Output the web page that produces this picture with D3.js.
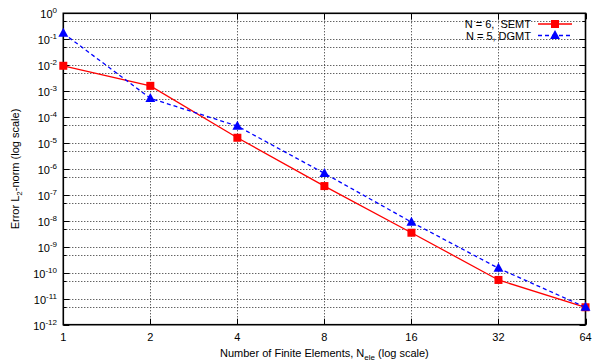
<!DOCTYPE html>
<html>
<head>
<meta charset="utf-8">
<script src="https://cdn.jsdelivr.net/npm/d3@7"></script>
<style>
  html, body { margin: 0; padding: 0; background: #fff; }
  svg { display: block; font-family: "Liberation Sans", Arial, Helvetica, sans-serif; }
</style>
</head>
<body>
<svg id="chart" width="598" height="364"></svg>
<script>
// Number of finite elements (x) and L2-norm errors for the two methods
const elements = [1, 2, 4, 8, 16, 32, 64];
const semtErrors = [9.5e-3, 1.6e-3, 1.6e-5, 2.2e-7, 3.5e-9, 5.3e-11, 4.7e-12];
const dgmtErrors = [1.7e-1, 5.3e-4, 4.5e-5, 6.8e-7, 9.0e-9, 1.5e-10, 4.7e-12];
const seriesNames = ["N = 6,  SEMT", "N = 5, DGMT"];
const xTickValues = [1, 2, 4, 8, 16, 32, 64];
const yExponents = [0, -1, -2, -3, -4, -5, -6, -7, -8, -9, -10, -11, -12];

const svg = d3.select("#chart");
const plotLeft = 63.3, plotRight = 585.5, plotTop = 13.3, plotBottom = 324.7;

const x = d3.scaleLog().base(2).domain([1, 64]).range([plotLeft, plotRight]);
const y = d3.scaleLog().domain([1e-12, 1]).range([plotBottom, plotTop]);

const majorY = yExponents.map(e => Math.pow(10, e));
// minor levels at 5 x 10^k inside the domain
const minorY = yExponents.slice(0, -1).map(e => 5 * Math.pow(10, e - 1));

// grid
const grid = svg.append("g").attr("stroke", "#222").attr("stroke-width", 1)
  .attr("stroke-dasharray", "1,2").attr("fill", "none");
majorY.concat(minorY).forEach(v => {
  if (v === 1 || v === 1e-12) return;
  const yy = Math.round(y(v)) + 0.5;
  grid.append("line").attr("x1", plotLeft).attr("x2", plotRight).attr("y1", yy).attr("y2", yy);
});
xTickValues.slice(1, -1).forEach(v => {
  const xx = Math.round(x(v)) + 0.5;
  grid.append("line").attr("x1", xx).attr("x2", xx).attr("y1", plotTop).attr("y2", plotBottom);
});

// tick marks (inward, mirrored)
const ticks = svg.append("g").attr("stroke", "#000").attr("stroke-width", 1);
majorY.forEach(v => {
  const yy = Math.round(y(v)) + 0.5;
  ticks.append("line").attr("x1", plotLeft).attr("x2", plotLeft + 6).attr("y1", yy).attr("y2", yy);
  ticks.append("line").attr("x1", plotRight - 6).attr("x2", plotRight).attr("y1", yy).attr("y2", yy);
});
minorY.forEach(v => {
  const yy = Math.round(y(v)) + 0.5;
  ticks.append("line").attr("x1", plotLeft).attr("x2", plotLeft + 3).attr("y1", yy).attr("y2", yy);
  ticks.append("line").attr("x1", plotRight - 3).attr("x2", plotRight).attr("y1", yy).attr("y2", yy);
});
xTickValues.forEach(v => {
  const xx = Math.round(x(v)) + 0.5;
  ticks.append("line").attr("x1", xx).attr("x2", xx).attr("y1", plotBottom).attr("y2", plotBottom - 6);
  ticks.append("line").attr("x1", xx).attr("x2", xx).attr("y1", plotTop).attr("y2", plotTop + 6);
});

// border
svg.append("rect").attr("x", plotLeft).attr("y", plotTop)
  .attr("width", plotRight - plotLeft).attr("height", plotBottom - plotTop)
  .attr("fill", "none").attr("stroke", "#000").attr("stroke-width", 1.6);

// y tick labels: 10 with superscript exponent
const yLab = svg.append("g").attr("font-size", 11).attr("fill", "#000");
yExponents.forEach(e => {
  const t = yLab.append("text").attr("x", 57).attr("y", y(Math.pow(10, e)) + 5)
    .attr("text-anchor", "end");
  t.append("tspan").text("10");
  t.append("tspan").attr("dy", -5).attr("font-size", 8).text(e === 0 ? "0" : "-" + (-e));
});

// x tick labels
const xLab = svg.append("g").attr("font-size", 11).attr("fill", "#000");
xTickValues.forEach(v => {
  xLab.append("text").attr("x", x(v)).attr("y", 341).attr("text-anchor", "middle").text(v);
});

// axis titles
const xt = svg.append("text").attr("x", (plotLeft + plotRight) / 2).attr("y", 357)
  .attr("text-anchor", "middle").attr("font-size", 11);
xt.append("tspan").text("Number of Finite Elements, N");
xt.append("tspan").attr("dy", 3).attr("font-size", 8).text("ele");
xt.append("tspan").attr("dy", -3).text(" (log scale)");

const yt = svg.append("text")
  .attr("transform", `translate(19,${(plotTop + plotBottom) / 2}) rotate(-90)`)
  .attr("text-anchor", "middle").attr("font-size", 11);
yt.append("tspan").text("Error L");
yt.append("tspan").attr("dy", 3).attr("font-size", 8).text("2");
yt.append("tspan").attr("dy", -3).text("-norm (log scale)");

// series
const line = d3.line().x(d => x(d[0])).y(d => y(d[1]));
const semt = elements.map((n, i) => [n, semtErrors[i]]);
const dgmt = elements.map((n, i) => [n, dgmtErrors[i]]);

const triangle = (cx, cy, s) => `M${cx},${cy - s * 0.6}L${cx + s * 0.55},${cy + s * 0.4}L${cx - s * 0.55},${cy + s * 0.4}Z`;

svg.append("path").datum(semt).attr("d", line)
  .attr("fill", "none").attr("stroke", "#ff0000").attr("stroke-width", 1.3);
svg.append("g").selectAll("rect").data(semt).join("rect")
  .attr("x", d => x(d[0]) - 4).attr("y", d => y(d[1]) - 4)
  .attr("width", 8).attr("height", 8).attr("fill", "#ff0000");

svg.append("path").datum(dgmt).attr("d", line)
  .attr("fill", "none").attr("stroke", "#0000ff").attr("stroke-width", 1.3)
  .attr("stroke-dasharray", "4,3");
svg.append("g").selectAll("path").data(dgmt).join("path")
  .attr("d", d => triangle(x(d[0]), y(d[1]), 9)).attr("fill", "#0000ff");

// legend
const legend = svg.append("g").attr("font-size", 11);
const legendY = [24, 35.5];
legend.append("text").attr("x", 531).attr("y", legendY[0] + 4).attr("text-anchor", "end")
  .attr("xml:space", "preserve").style("white-space", "pre").text(seriesNames[0]);
legend.append("line").attr("x1", 538).attr("x2", 572).attr("y1", legendY[0]).attr("y2", legendY[0])
  .attr("stroke", "#ff0000").attr("stroke-width", 1.3);
legend.append("rect").attr("x", 551).attr("y", legendY[0] - 4).attr("width", 8).attr("height", 8)
  .attr("fill", "#ff0000");
legend.append("text").attr("x", 531).attr("y", legendY[1] + 4).attr("text-anchor", "end")
  .text(seriesNames[1]);
legend.append("line").attr("x1", 538).attr("x2", 572).attr("y1", legendY[1]).attr("y2", legendY[1])
  .attr("stroke", "#0000ff").attr("stroke-width", 1.3).attr("stroke-dasharray", "4,3");
legend.append("path").attr("d", triangle(555, legendY[1], 9)).attr("fill", "#0000ff");
</script>
</body>
</html>
